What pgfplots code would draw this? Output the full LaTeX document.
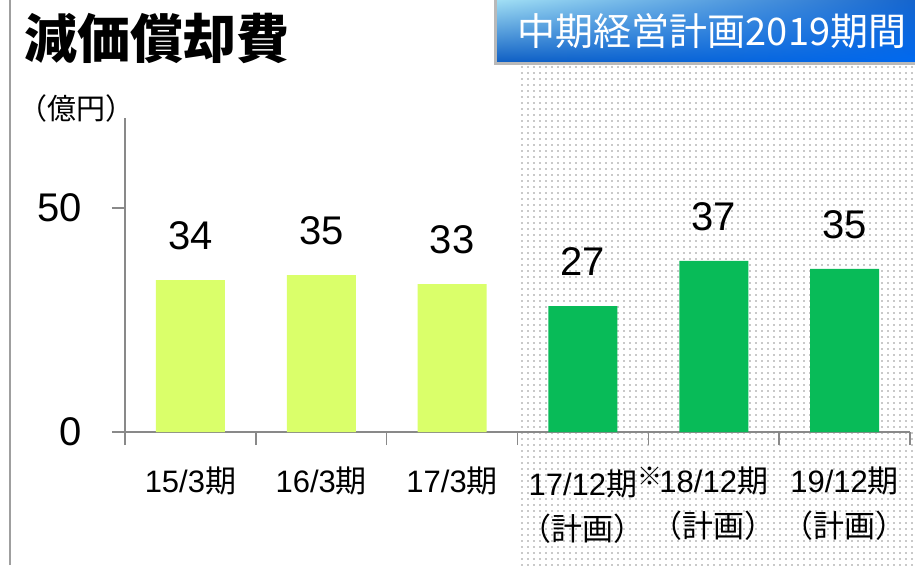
\documentclass[border=0pt]{standalone}
\usepackage{pgfplots}
\pgfplotsset{compat=1.18}
\usepackage{fontspec}
\setmainfont{Liberation Sans}
\newfontfamily\cjk{Noto Sans CJK JP}
\usetikzlibrary{patterns.meta,shadings}
\definecolor{lightbar}{RGB}{218,255,106}
\definecolor{greenbar}{RGB}{8,187,88}
\definecolor{axisgray}{RGB}{137,137,137}
\definecolor{bUL}{RGB}{160,222,244}
\definecolor{bUR}{RGB}{20,100,205}
\definecolor{bLL}{RGB}{15,95,195}
\definecolor{bLR}{RGB}{0,105,240}
\begin{document}
\begin{tikzpicture}[x=1pt,y=1pt]
\path[use as bounding box] (0,0) rectangle (915,565);
\fill[white] (0,0) rectangle (915,565);
% plan period shaded region
\fill[pattern={Dots[distance=6pt,radius=0.85pt]}, pattern color=gray!85] (517,0) rectangle (915,502);
% left border line
\draw[gray!75, line width=2pt] (10,0) -- (10,565);
% header box
\fill[gray!55] (494,500) rectangle (915,565);
\shade[upper left=bUL, upper right=bUR, lower left=bLL, lower right=bLR]
  (497,503) rectangle (915,565);
\node[white, font=\cjk\fontsize{38}{40}\selectfont] at (712,534) {中期経営計画2019期間};
\node[anchor=west, inner sep=0pt, font=\cjk\bfseries\fontsize{53}{56}\selectfont] at (24,527) {減価償却費};
\node[anchor=west, inner sep=0pt, font=\cjk\fontsize{29}{30}\selectfont] at (18,457) {（億円）};

\begin{axis}[
  at={(125pt,133pt)}, anchor=south west,
  scale only axis, width=785pt, height=313.6pt,
  xmin=-0.5, xmax=5.5, ymin=0, ymax=70,
  axis lines*=left,
  axis line style={draw=axisgray, line width=1.5pt},
  tick style={draw=axisgray, line width=1.5pt},
  tick align=outside, major tick length=13pt,
  xtick={-0.5,0.5,1.5,2.5,3.5,4.5,5.5},
  xticklabels={},
  ytick={0,50},
  /pgf/number format/assume math mode=true,
  yticklabel style={font=\fontsize{40}{40}\selectfont, anchor=east, inner sep=0pt, xshift=-30pt},
  clip=false,
  point meta=explicit symbolic,
  nodes near coords,
  nodes near coords style={font=\fontsize{40}{40}\selectfont, anchor=south, inner sep=0pt, yshift=30pt},
]
\addplot[ybar, bar width=69pt, bar shift=0pt, fill=lightbar, draw=none]
  coordinates {(0,33.9)[34] (1,35.0)[35] (2,33.0)[33]};
\addplot[ybar, bar width=69pt, bar shift=0pt, fill=greenbar, draw=none]
  coordinates {(3,28.1)[27] (4,38.2)[37] (5,36.4)[35]};

\begin{scope}[every node/.style={anchor=north, inner sep=0pt, align=center, yshift=-35pt, font=\fontsize{31}{45}\selectfont}]
\node at (axis cs:0,0) {15/3{\cjk 期}};
\node at (axis cs:1,0) {16/3{\cjk 期}};
\node at (axis cs:2,0) {17/3{\cjk 期}};
\node at (axis cs:3,0) {17/12{\cjk 期}\rlap{\raisebox{10pt}{\cjk\fontsize{25}{25}\selectfont ※}}\\{\cjk （計画）}};
\node at (axis cs:4,0) {18/12{\cjk 期}\\{\cjk （計画）}};
\node at (axis cs:5,0) {19/12{\cjk 期}\\{\cjk （計画）}};
\end{scope}
\end{axis}
\end{tikzpicture}
\end{document}
